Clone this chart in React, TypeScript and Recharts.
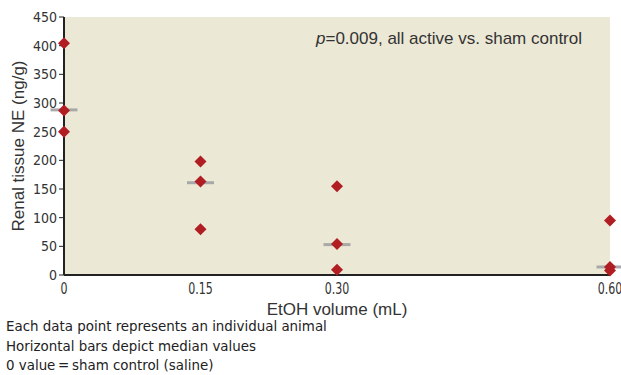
import { CartesianGrid, Scatter, ScatterChart, XAxis, YAxis } from "recharts";

// dose groups (mL of EtOH)
const doses = [0, 0.15, 0.3, 0.6];
// one entry per animal
const animalDose = [0, 0, 0, 0.15, 0.15, 0.15, 0.3, 0.3, 0.3, 0.6, 0.6, 0.6];
const animalNE = [404, 287, 250, 198, 163, 80, 155, 54, 9, 95, 14, 8];
// median per group
const medians = [288, 161, 53, 14];
const yTicks = [0, 50, 100, 150, 200, 250, 300, 350, 400, 450];
const notes = [
  "Each data point represents an individual animal",
  "Horizontal bars depict median values",
  "0 value\u2009=\u2009sham control (saline)",
];

const points = animalDose.map((d, i) => ({ dose: d, ne: animalNE[i] }));
const medianPts = doses.map((d, i) => ({ dose: d, ne: medians[i] }));

const narrow = "'DejaVu Sans Condensed', 'Liberation Sans Narrow', sans-serif";
const sans = "'Liberation Sans', Arial, sans-serif";

const Diamond = (p: any) => {
  const { cx, cy } = p;
  const r = 6;
  return (
    <polygon
      points={`${cx},${cy - r} ${cx + r},${cy} ${cx},${cy + r} ${cx - r},${cy}`}
      fill="#b01e23"
    />
  );
};

const MedianBar = (p: any) => {
  const { cx, cy } = p;
  return <line x1={cx - 13.5} x2={cx + 13.5} y1={cy} y2={cy} stroke="#a8a8a8" strokeWidth={3} />;
};

const XTick = (p: any) => {
  const { x, y, payload } = p;
  const v = payload.value as number;
  return (
    <text
      transform={`translate(${x},${y + 11}) scale(0.82,1)`}
      textAnchor="middle"
      fontFamily={narrow}
      fontSize={15}
      fill="#333"
    >
      {v === 0 ? "0" : v.toFixed(2)}
    </text>
  );
};

export default function App() {
  return (
    <div style={{ position: "absolute", left: 0, top: 0, width: 621, height: 375, background: "#fff" }}>
      <ScatterChart width={621} height={375} margin={{ top: 17, right: 11, left: 0, bottom: 78 }}>
        <CartesianGrid horizontal={false} vertical={false} fill="#ece8d6" />
        <XAxis
          type="number"
          dataKey="dose"
          domain={[0, 0.6]}
          ticks={doses}
          height={22}
          tickLine={false}
          axisLine={{ stroke: "#222", strokeWidth: 2 }}
          tick={<XTick />}
          label={{ value: "EtOH volume (mL)", position: "insideBottom", offset: -18, fontFamily: sans, fontSize: 17, fill: "#333" }}
        />
        <YAxis
          type="number"
          dataKey="ne"
          domain={[0, 450]}
          ticks={yTicks}
          width={64}
          tickSize={5}
          tickLine={{ stroke: "#222" }}
          axisLine={{ stroke: "#222", strokeWidth: 2 }}
          tick={{ fontFamily: narrow, fontSize: 14, fill: "#333" }}
          tickMargin={2}
          label={{ value: "Renal tissue NE (ng/g)", angle: -90, position: "insideLeft", offset: 18, style: { textAnchor: "middle" }, fontFamily: sans, fontSize: 17, fill: "#333" }}
        />
        <Scatter data={medianPts} shape={MedianBar} isAnimationActive={false} />
        <Scatter data={points} shape={Diamond} isAnimationActive={false} />
      </ScatterChart>
      <div style={{ position: "absolute", left: 316, top: 29, fontFamily: sans, fontSize: 17, color: "#333", whiteSpace: "nowrap" }}>
        <i>p</i>=0.009, all active vs. sham control
      </div>
      <div style={{ position: "absolute", left: 6, top: 317, fontFamily: narrow, fontSize: 14.9, lineHeight: "19.5px", color: "#222" }}>
        {notes.map((n) => (
          <div key={n}>{n}</div>
        ))}
      </div>
    </div>
  );
}
